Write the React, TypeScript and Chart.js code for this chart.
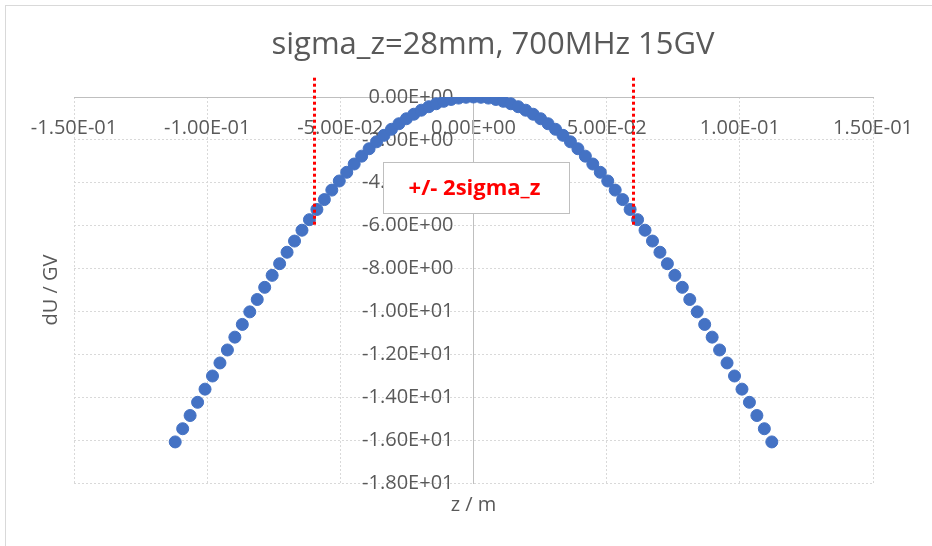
import React, { useEffect, useRef } from "react";
import { Chart, registerables } from "chart.js";

Chart.register(...registerables);

const TITLE = "sigma_z=28mm, 700MHz 15GV";
const X_TITLE = "z / m";
const Y_TITLE = "dU / GV";
const ANNOTATION_TEXT = "+/- 2sigma_z";

// z positions (m)
const zValues = [
  -0.112, -0.1092, -0.1064, -0.1036, -0.1008, -0.098, -0.0952, -0.0924, -0.0896, -0.0868,
  -0.084, -0.0812, -0.0784, -0.0756, -0.0728, -0.07, -0.0672, -0.0644, -0.0616, -0.0588,
  -0.056, -0.0532, -0.0504, -0.0476, -0.0448, -0.042, -0.0392, -0.0364, -0.0336, -0.0308,
  -0.028, -0.0252, -0.0224, -0.0196, -0.0168, -0.014, -0.0112, -0.0084, -0.0056, -0.0028,
  0,
  0.0028, 0.0056, 0.0084, 0.0112, 0.014, 0.0168, 0.0196, 0.0224, 0.0252, 0.028,
  0.0308, 0.0336, 0.0364, 0.0392, 0.042, 0.0448, 0.0476, 0.0504, 0.0532, 0.056,
  0.0588, 0.0616, 0.0644, 0.0672, 0.07, 0.0728, 0.0756, 0.0784, 0.0812, 0.084,
  0.0868, 0.0896, 0.0924, 0.0952, 0.098, 0.1008, 0.1036, 0.1064, 0.1092, 0.112,
];

// dU (GV)
const dUValues = [
  -16.085, -15.469, -14.853, -14.237, -13.623, -13.01, -12.402, -11.797, -11.198, -10.605,
  -10.02, -9.443, -8.876, -8.318, -7.773, -7.239, -6.718, -6.212, -5.72, -5.244,
  -4.784, -4.342, -3.917, -3.511, -3.125, -2.759, -2.413, -2.089, -1.786, -1.506,
  -1.248, -1.014, -0.803, -0.616, -0.453, -0.315, -0.202, -0.114, -0.051, -0.013,
  0,
  -0.013, -0.051, -0.114, -0.202, -0.315, -0.453, -0.616, -0.803, -1.014, -1.248,
  -1.506, -1.786, -2.089, -2.413, -2.759, -3.125, -3.511, -3.917, -4.342, -4.784,
  -5.244, -5.72, -6.212, -6.718, -7.239, -7.773, -8.318, -8.876, -9.443, -10.02,
  -10.605, -11.198, -11.797, -12.402, -13.01, -13.623, -14.237, -14.853, -15.469, -16.085,
];

const xTickValues = [-0.15, -0.1, -0.05, 0, 0.05, 0.1, 0.15];
const yTickValues = [0, -2, -4, -6, -8, -10, -12, -14, -16, -18];

// ±2 sigma_z marker lines (data units)
const sigmaLines = [-0.06, 0.06];
const sigmaLineTop = 0.9;
const sigmaLineBottom = -6;
// annotation box (data units)
const annotationBox = { xMin: -0.034, xMax: 0.0358, yTop: -3.03, yBottom: -5.41 };
// y tick labels end a little left of the z = 0 axis line
const yLabelAnchor = -0.0075;

const TEXT_COLOR = "#595959";
const FONT = "'Open Sans'";

function sci(v: number): string {
  const [m, e] = Number(v).toExponential(2).split("e");
  const n = parseInt(e, 10);
  const mant = m === "-0.00" ? "0.00" : m;
  return mant + "E" + (n < 0 ? "-" : "+") + String(Math.abs(n)).padStart(2, "0");
}

const framePlugin = {
  id: "frame",
  beforeDraw(chart: any) {
    const { ctx } = chart;
    ctx.save();
    ctx.fillStyle = "#ffffff";
    ctx.fillRect(0, 0, chart.width, chart.height);
    ctx.strokeStyle = "#d9d9d9";
    ctx.lineWidth = 1;
    ctx.strokeRect(5.5, 5.5, chart.width + 20, chart.height + 20);
    ctx.restore();
  },
};

const sigmaPlugin = {
  id: "sigmaAnnotation",
  afterDatasetsDraw(chart: any) {
    const { ctx } = chart;
    const x = chart.scales.x;
    const y = chart.scales.y;
    ctx.save();
    ctx.strokeStyle = "#ff0000";
    ctx.lineWidth = 3;
    ctx.setLineDash([3, 3]);
    for (const v of sigmaLines) {
      const px = Math.round(x.getPixelForValue(v)) + 0.5;
      ctx.beginPath();
      ctx.moveTo(px, y.getPixelForValue(sigmaLineTop));
      ctx.lineTo(px, y.getPixelForValue(sigmaLineBottom));
      ctx.stroke();
    }
    ctx.setLineDash([]);
    const l = Math.round(x.getPixelForValue(annotationBox.xMin)) + 0.5;
    const r = Math.round(x.getPixelForValue(annotationBox.xMax)) + 0.5;
    const t = Math.round(y.getPixelForValue(annotationBox.yTop)) + 0.5;
    const b = Math.round(y.getPixelForValue(annotationBox.yBottom)) + 0.5;
    ctx.fillStyle = "#ffffff";
    ctx.fillRect(l, t, r - l, b - t);
    ctx.strokeStyle = "#bfbfbf";
    ctx.lineWidth = 1;
    ctx.strokeRect(l, t, r - l, b - t);
    ctx.fillStyle = "#ff0000";
    ctx.font = `bold 22px ${FONT}`;
    ctx.textAlign = "center";
    ctx.textBaseline = "middle";
    ctx.fillText(ANNOTATION_TEXT, (l + r) / 2 - 2, (t + b) / 2 + 1);
    ctx.restore();
  },
};

export default function App() {
  const canvasRef = useRef<HTMLCanvasElement | null>(null);

  useEffect(() => {
    const canvas = canvasRef.current;
    if (!canvas) return;
    const tickFont = { family: FONT, size: 20 };
    const chart = new Chart(canvas, {
      type: "scatter",
      data: {
        datasets: [
          {
            label: "dU",
            data: zValues.map((z, i) => ({ x: z, y: dUValues[i] })),
            showLine: false,
            pointRadius: 6,
            pointBackgroundColor: "#4472c4",
            pointBorderColor: "#4472c4",
            pointBorderWidth: 1,
          },
        ],
      },
      options: {
        responsive: false,
        animation: false,
        devicePixelRatio: 1,
        layout: { padding: { left: 54, right: 0, top: 0, bottom: 0 } },
        plugins: {
          legend: { display: false },
          tooltip: { enabled: false },
          title: {
            display: true,
            text: TITLE,
            color: TEXT_COLOR,
            font: { family: FONT, size: 31, weight: "normal" },
            padding: { top: 26.4, bottom: 33.4 },
          },
        },
        scales: {
          x: {
            type: "linear",
            position: { y: 0 },
            min: -0.15,
            max: 0.15,
            afterBuildTicks: (s: any) => {
              s.ticks = xTickValues.map((v) => ({ value: v }));
            },
            afterFit: (s: any) => {
              s.height = 0;
            },
            grid: { color: "#d9d9d9", lineWidth: 1, drawTicks: false },
            border: { display: true, color: "#bfbfbf", width: 1, dash: [2, 2] },
            ticks: {
              callback: (v: any) => sci(v),
              color: TEXT_COLOR,
              font: tickFont,
              padding: 19,
              autoSkip: false,
              maxRotation: 0,
            },
          },
          y: {
            type: "linear",
            position: { x: 0 },
            min: -18,
            max: 0,
            afterBuildTicks: (s: any) => {
              s.ticks = yTickValues.map((v) => ({ value: v }));
            },
            afterFit: (s: any) => {
              s.width = 56;
            },
            grid: { color: "#d9d9d9", lineWidth: 1, drawTicks: false },
            border: { display: true, color: "#bfbfbf", width: 1, dash: [2, 2] },
            ticks: { display: false },
          },
          yLabels: {
            type: "linear",
            axis: "y",
            position: { x: yLabelAnchor },
            min: -18,
            max: 0,
            afterBuildTicks: (s: any) => {
              s.ticks = yTickValues.map((v) => ({ value: v }));
            },
            afterFit: (s: any) => {
              s.width = 0;
            },
            grid: { display: false, drawTicks: false },
            border: { display: false },
            ticks: {
              callback: (v: any) => sci(v),
              color: TEXT_COLOR,
              font: tickFont,
              padding: 0,
              autoSkip: false,
            },
          },
          xTitle: {
            type: "linear",
            axis: "x",
            position: "bottom",
            min: -0.15,
            max: 0.15,
            afterFit: (s: any) => {
              s.height = 63;
            },
            grid: { display: false },
            border: { display: false },
            ticks: { display: false },
            title: {
              display: true,
              text: X_TITLE,
              color: TEXT_COLOR,
              font: { family: FONT, size: 20 },
              padding: { top: 0, bottom: 29 },
            },
          },
          yTitle: {
            type: "linear",
            axis: "y",
            position: "left",
            min: -18,
            max: 0,
            afterFit: (s: any) => {
              s.width = 20;
            },
            grid: { display: false },
            border: { display: false },
            ticks: { display: false },
            title: {
              display: true,
              text: Y_TITLE,
              color: TEXT_COLOR,
              font: { family: FONT, size: 20 },
              padding: { top: -15, bottom: 0 },
            },
          },
        },
      } as any,
      plugins: [framePlugin, sigmaPlugin],
    });
    return () => chart.destroy();
  }, []);

  return (
    <div style={{ position: "absolute", left: 0, top: 0, width: 932, height: 546 }}>
      <canvas ref={canvasRef} width={932} height={546} />
    </div>
  );
}
